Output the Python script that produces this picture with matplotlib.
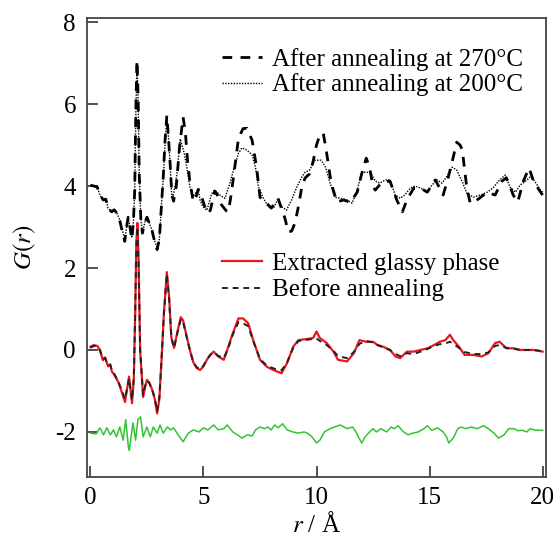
import matplotlib
matplotlib.use("Agg")
import matplotlib.pyplot as plt

# G(r) of the glassy phase
r_270 = [0.0, 0.15, 0.3, 0.42, 0.57, 0.68, 0.78, 0.94, 1.05, 1.17, 1.3, 1.45, 1.52, 1.6, 1.67, 1.75, 1.83, 1.9,
         1.96, 2.01, 2.06, 2.11, 2.16, 2.23, 2.3, 2.4, 2.5, 2.6, 2.72, 2.85, 2.95, 3.05, 3.15, 3.22, 3.3, 3.38, 3.45,
         3.52, 3.6, 3.68, 3.8, 3.95, 4.1, 4.2, 4.3, 4.4, 4.55, 4.68, 4.77, 4.85, 5.0, 5.15, 5.3, 5.5, 5.65, 5.8,
         6.0, 6.1, 6.2, 6.33, 6.55, 6.75, 6.92, 7.15, 7.35, 7.5, 7.65, 7.8, 8.0, 8.3, 8.45, 8.6, 8.75, 8.9, 9.05,
         9.2, 9.35, 9.5, 9.7, 9.85, 10.0, 10.15, 10.3, 10.45, 10.65, 10.9, 11.2, 11.5, 11.8, 12.0, 12.2, 12.35,
         12.5, 12.6, 12.9, 13.25, 13.55, 13.8, 14.0, 14.3, 14.6, 14.9, 15.25, 15.45, 15.6, 15.8, 16.0, 16.2, 16.35,
         16.45, 16.55, 16.65, 16.8, 17.0, 17.2, 17.55, 17.9, 18.2, 18.4, 18.55, 18.7, 18.9, 19.15, 19.4, 19.6,
         19.85, 20.0]
g_270 = [4.02, 4.0, 3.98, 3.78, 3.66, 3.68, 3.46, 3.37, 3.42, 3.34, 3.15, 2.8, 2.65, 3.0, 3.24, 3.0, 2.7, 3.1,
         3.9, 5.9, 7.07, 6.2, 4.3, 3.2, 2.85, 3.1, 3.24, 3.1, 2.93, 2.62, 2.45, 2.7, 3.6, 4.2, 5.1, 5.72, 5.2,
         4.6, 3.8, 3.63, 4.0, 5.0, 5.68, 5.3, 4.6, 4.1, 3.62, 3.75, 3.92, 3.85, 3.6, 3.34, 3.4, 3.88, 3.75, 3.54,
         3.4, 3.37, 3.7, 4.22, 5.17, 5.4, 5.41, 5.12, 4.46, 3.73, 3.62, 3.58, 3.46, 3.7, 3.45, 3.22, 2.88, 2.9,
         3.1, 3.5, 3.98, 4.2, 4.3, 4.6, 5.0, 5.25, 5.29, 4.8, 4.07, 3.61, 3.66, 3.6, 3.85, 4.3, 4.68, 4.45,
         3.98, 3.9, 4.1, 4.12, 3.66, 3.37, 3.66, 3.95, 3.95, 3.85, 4.15, 3.95, 3.78, 4.15, 4.59, 5.07, 5.0,
         4.88, 4.4, 3.95, 3.58, 3.62, 3.7, 3.85, 3.78, 4.12, 4.2, 4.0, 3.78, 3.61, 4.12, 4.44, 4.12,
         3.9, 3.78]

r_200 = [0.0, 0.15, 0.3, 0.42, 0.57, 0.68, 0.78, 0.94, 1.05, 1.17, 1.3, 1.45, 1.52, 1.6, 1.67, 1.75, 1.83, 1.9,
         1.96, 2.01, 2.06, 2.11, 2.16, 2.23, 2.3, 2.4, 2.5, 2.6, 2.72, 2.85, 2.95, 3.05, 3.15, 3.22, 3.3, 3.38, 3.45,
         3.52, 3.6, 3.68, 3.83, 3.97, 4.05, 4.15, 4.25, 4.4, 4.55, 4.68, 4.77, 4.85, 4.97, 5.15, 5.37, 5.5, 5.73,
         5.95, 6.17, 6.33, 6.55, 6.7, 6.92, 7.15, 7.3, 7.43, 7.65, 7.87, 8.1, 8.3, 8.45, 8.67, 8.9, 9.13, 9.35,
         9.5, 9.7, 9.93, 10.2, 10.4, 10.6, 10.8, 11.05, 11.35, 11.57, 11.8, 12.0, 12.2, 12.4, 12.6, 12.8, 13.05,
         13.25, 13.48, 13.7, 13.9, 14.15, 14.35, 14.6, 14.9, 15.1, 15.33, 15.55, 15.75, 16.0, 16.2, 16.45, 16.65,
         16.95, 17.25, 17.55, 17.8, 18.1, 18.35, 18.55, 18.8, 19.0, 19.25, 19.45, 19.65, 19.9, 20.0]
g_200 = [4.02, 4.0, 3.98, 3.78, 3.66, 3.7, 3.46, 3.37, 3.42, 3.34, 3.17, 2.85, 2.7, 3.0, 3.24, 3.0, 2.76, 3.1,
         3.9, 5.8, 7.0, 6.1, 4.3, 3.2, 2.85, 3.1, 3.24, 3.1, 2.93, 2.65, 2.51, 2.7, 3.6, 4.15, 5.0, 5.68, 5.2,
         4.6, 3.73, 3.8, 4.3, 5.15, 5.0, 4.8, 4.5, 3.98, 3.75, 3.85, 3.9, 3.66, 3.5, 3.41, 3.82, 3.9, 3.78,
         3.7, 4.07, 4.39, 4.8, 4.93, 4.88, 4.76, 4.46, 3.98, 3.7, 3.5, 3.46, 3.7, 3.5, 3.41, 3.66, 3.98, 4.22,
         4.34, 4.39, 4.63, 4.63, 4.46, 4.07, 3.73, 3.7, 3.66, 3.58, 3.9, 4.34, 4.34, 4.32, 4.12, 4.07, 4.15,
         4.15, 3.78, 3.7, 3.78, 3.95, 4.0, 3.95, 3.85, 4.02, 4.15, 4.07, 4.22, 4.46, 4.39, 4.1, 3.82,
         3.73, 3.78, 3.85, 3.95, 4.15, 4.27, 3.98, 3.85, 4.02, 4.12, 4.22, 4.12, 3.9, 3.85]

r_low = [0.0, 0.15, 0.3, 0.42, 0.55, 0.65, 0.78, 0.88, 0.95, 1.05, 1.15, 1.25, 1.4, 1.53, 1.62, 1.71, 1.84, 1.92,
         1.98, 2.03, 2.08, 2.13, 2.2, 2.33, 2.42, 2.5, 2.6, 2.72, 2.85, 2.95, 3.05, 3.15, 3.25, 3.38, 3.48, 3.58,
         3.7, 3.85, 4.0, 4.1, 4.25, 4.4, 4.55, 4.7, 4.85, 5.0, 5.15, 5.3, 5.45, 5.65, 5.9, 6.1, 6.3, 6.55, 6.75,
         6.98, 7.2, 7.5, 7.8, 8.1, 8.45, 8.7, 8.97, 9.2, 9.6, 9.85, 10.0, 10.15, 10.45, 10.75, 10.95, 11.35, 11.65,
         11.9, 12.2, 12.5, 12.7, 12.95, 13.25, 13.5, 13.7, 14.0, 14.3, 14.6, 14.9, 15.2, 15.45, 15.7, 15.9, 16.05,
         16.3, 16.55, 16.95, 17.3, 17.6, 17.9, 18.1, 18.4, 18.7, 19.0, 19.3, 19.6, 20.0]
g_glassy = [0.08, 0.12, 0.1, 0.0, -0.25, -0.18, -0.4, -0.35, -0.53, -0.6, -0.7, -0.8, -1.05, -1.27, -0.95, -0.65,
            -1.3, -0.7, 0.9, 2.6, 3.1, 2.2, 0.0, -1.15, -0.9, -0.73, -0.8, -0.95, -1.2, -1.55, -1.2, -0.2, 0.9,
            1.9, 1.3, 0.3, 0.05, 0.45, 0.8, 0.72, 0.35, 0.0, -0.3, -0.44, -0.49, -0.4, -0.24, -0.12, -0.04, -0.16,
            -0.24, 0.08, 0.41, 0.77, 0.77, 0.65, 0.24, -0.24, -0.41, -0.49, -0.57, -0.32, 0.08, 0.24, 0.27, 0.29,
            0.45, 0.29, 0.17, -0.04, -0.24, -0.28, -0.08, 0.24, 0.2, 0.2, 0.12, 0.08, 0.0, -0.16, -0.2, -0.04,
            -0.04, 0.0, 0.04, 0.12, 0.2, 0.24, 0.37, 0.24, 0.08, -0.12, -0.12, -0.16, -0.08, 0.17, 0.2, 0.04,
            0.04, 0.0, 0.0, 0.0, -0.04]
g_before = [0.05, 0.1, 0.08, 0.0, -0.22, -0.2, -0.38, -0.37, -0.5, -0.58, -0.68, -0.8, -1.0, -1.2, -0.95, -0.7,
            -1.22, -0.7, 0.85, 2.5, 3.0, 2.1, 0.0, -1.1, -0.88, -0.75, -0.8, -0.95, -1.18, -1.5, -1.15, -0.2,
            0.85, 1.85, 1.25, 0.3, 0.05, 0.42, 0.75, 0.68, 0.33, 0.0, -0.3, -0.42, -0.47, -0.38, -0.24, -0.12,
            -0.06, -0.14, -0.2, 0.05, 0.38, 0.68, 0.65, 0.58, 0.22, -0.22, -0.38, -0.45, -0.5, -0.3, 0.05, 0.22,
            0.25, 0.27, 0.28, 0.22, 0.12, -0.02, -0.15, -0.2, -0.05, 0.15, 0.22, 0.18, 0.12, 0.06, 0.0, -0.1,
            -0.15, -0.08, -0.1, -0.04, 0.02, 0.1, 0.14, 0.16, 0.2, 0.15, 0.05, -0.05, -0.1, -0.1, -0.06, 0.1,
            0.12, 0.05, 0.04, 0.0, 0.0, 0.0, -0.03]

r_diff = [0.0, 0.25, 0.42, 0.58, 0.73, 0.88, 1.02, 1.15, 1.3, 1.45, 1.56, 1.68, 1.72, 1.88, 2.0, 2.1, 2.22, 2.33,
          2.5, 2.65, 2.78, 2.95, 3.08, 3.22, 3.4, 3.55, 3.68, 3.88, 4.1, 4.33, 4.55, 4.8, 5.0, 5.2, 5.45, 5.65,
          5.9, 6.05, 6.3, 6.5, 6.7, 6.95, 7.15, 7.3, 7.5, 7.7, 7.85, 8.0, 8.15, 8.3, 8.5, 8.7, 8.95, 9.2, 9.45,
          9.6, 9.8, 10.0, 10.15, 10.35, 10.6, 10.8, 11.05, 11.35, 11.6, 11.75, 11.85, 12.0, 12.15, 12.35, 12.5,
          12.65, 12.85, 13.1, 13.3, 13.45, 13.6, 13.85, 14.05, 14.25, 14.5, 14.75, 14.9, 15.1, 15.35, 15.6, 15.75,
          15.85, 16.05, 16.25, 16.4, 16.6, 16.85, 17.1, 17.4, 17.6, 17.85, 18.05, 18.3, 18.5, 18.75, 18.9, 19.1,
          19.3, 19.45, 19.7, 20.0]
g_diff = [-2.03, -2.05, -1.9, -2.07, -1.9, -2.07, -1.95, -2.12, -1.88, -2.2, -1.7, -2.37, -2.45, -1.78, -2.2,
          -1.7, -1.63, -2.12, -1.88, -2.12, -1.88, -2.03, -1.83, -2.03, -1.88, -1.95, -1.9, -2.07, -2.24, -2.03,
          -1.95, -2.0, -1.9, -1.95, -1.83, -1.95, -1.92, -1.83, -2.0, -2.07, -2.15, -2.07, -2.1, -1.95, -1.88,
          -1.92, -1.88, -1.95, -1.83, -1.9, -1.8, -1.95, -2.0, -2.03, -2.0, -2.03, -2.12, -2.27, -2.2, -2.0,
          -1.92, -1.88, -1.83, -1.92, -1.88, -2.0, -2.12, -2.27, -2.12, -2.0, -1.92, -2.0, -1.92, -2.0, -1.88,
          -1.92, -1.85, -2.0, -2.07, -2.03, -2.0, -1.92, -1.85, -1.96, -1.9, -2.0, -2.12, -2.27, -2.15, -1.92,
          -1.88, -1.92, -1.88, -1.92, -1.85, -1.92, -2.03, -2.15, -2.07, -1.92, -1.92, -1.97, -1.96, -2.0,
          -1.92, -1.96, -1.96]

plt.rcParams['font.family'] = ['Liberation Serif', 'DejaVu Serif']
plt.rcParams['mathtext.fontset'] = 'stix'
plt.rcParams['axes.unicode_minus'] = False
plt.rcParams['font.size'] = 18

fig = plt.figure(figsize=(5.56, 5.39), dpi=100)
ax = fig.add_axes([0.1565, 0.115, 0.8255, 0.8516])

l1, = ax.plot(r_270, g_270, color='black', lw=2.0, linestyle=(0, (3.5, 3)), label='After annealing at 270°C')
l2, = ax.plot(r_200, g_200, color='black', lw=1.0, linestyle=(0, (1, 1)), label='After annealing at 200°C')
l3, = ax.plot(r_low, g_glassy, color='#e8161e', lw=1.6, label='Extracted glassy phase')
l4, = ax.plot(r_low, g_before, color='#222222', lw=1.4, linestyle=(0, (3, 2.5)), label='Before annealing')
ax.plot(r_diff, g_diff, color='#33c433', lw=1.1)

ax.set_xlim(-0.15, 20.15)
ax.set_ylim(-3.1, 8.1)
ax.set_xticks([0, 5, 10, 15, 20])
ax.set_yticks([-2, 0, 2, 4, 6, 8])
ax.tick_params(direction='in', length=8, width=1.2, color='#333333', top=False, right=False)
ax.tick_params(axis='y', pad=8)
ax.tick_params(axis='x', pad=7)
for s in ax.spines.values():
    s.set_color('#444444')
    s.set_linewidth(1.3)

ax.set_xlabel(r'$r$ / Å', labelpad=2)
ax.set_ylabel(r'$G(r)$', labelpad=12)

leg1 = ax.legend(handles=[l1, l2], loc='upper left', bbox_to_anchor=(0.295, 0.935), frameon=False,
                 handlelength=1.6, handletextpad=0.4, labelspacing=0.1, borderpad=0, borderaxespad=0)
ax.add_artist(leg1)
ax.legend(handles=[l3, l4], loc='upper left', bbox_to_anchor=(0.295, 0.49), frameon=False,
          handlelength=1.6, handletextpad=0.4, labelspacing=0.15, borderpad=0, borderaxespad=0)

fig.savefig('out.png', dpi=100)
